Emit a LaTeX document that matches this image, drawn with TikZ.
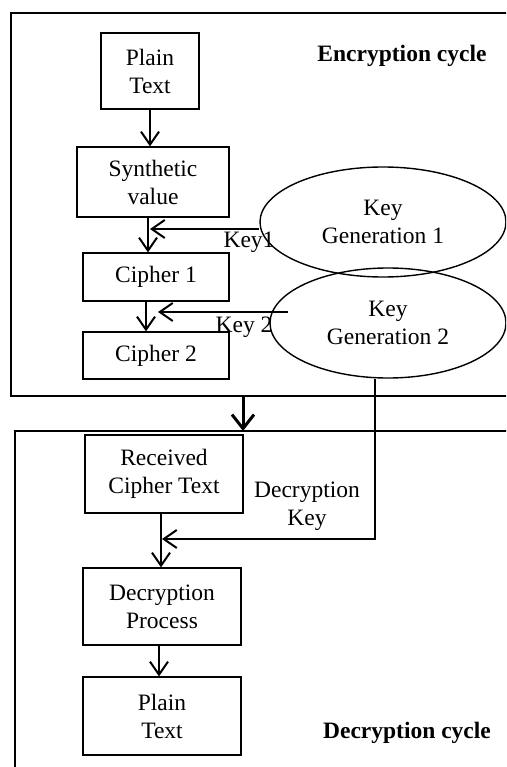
\documentclass[tikz,border=0pt]{standalone}
\usepackage{fontspec}
\setmainfont{Liberation Serif}
\usetikzlibrary{shapes.geometric,arrows.meta}
\begin{document}
\begin{tikzpicture}[x=1pt,y=-1pt,
  every node/.style={font=\fontsize{23.5}{28}\selectfont, inner sep=0pt},
  stepbox/.style={draw, line width=1.2pt, align=center},
  keyell/.style={draw, ellipse, line width=1.4pt, align=center},
  frame/.style={draw, line width=2.4pt},
  arr/.style={line width=2pt, -{Straight Barb[length=13pt,width=18pt]}},
  bigarr/.style={line width=3pt, -{Straight Barb[length=14pt,width=22pt]}},
  title/.style={font=\fontsize{23.5}{28}\selectfont\bfseries}]
\useasboundingbox (0,0) rectangle (506,767);
\clip (0,0) rectangle (506,767);

% outer frames of the two cycles
\draw[frame] (520,13) -- (11,13) -- (11,396) -- (520,396);
\draw[frame] (520,431) -- (15,431) -- (15,790);

% encryption cycle
\node[stepbox, minimum width=98pt, minimum height=76pt] (plain) at (150,71) {Plain\\Text};
\node[stepbox, minimum width=152pt, minimum height=70pt] (synth) at (153,182) {Synthetic\\value};
\node[stepbox, minimum width=146pt, minimum height=48pt] (c1) at (156,277) {Cipher 1};
\node[stepbox, minimum width=146pt, minimum height=47pt] (c2) at (156,355.5) {Cipher 2};
\node[keyell, minimum width=246pt, minimum height=110pt] (k1) at (383,222) {Key\\Generation 1};
\node[keyell, minimum width=236pt, minimum height=110pt] (k2) at (388,323) {Key\\Generation 2};
\node[title] (enc) at (402,56) {Encryption cycle};

\draw[arr] (plain.south) -- (plain.south |- synth.north);
\draw[arr] ([xshift=-5pt]synth.south) -- ([xshift=-5pt]synth.south |- c1.north);
\draw[arr] ([xshift=-10pt]c1.south) -- ([xshift=-10pt]c1.south |- c2.north);

\coordinate (ka) at (150,229);
\coordinate (kb) at (158,312);
\coordinate (kbs) at (288,312);
\draw[arr] (ka -| k1.west) -- (ka);
\draw[arr] (kbs) -- (kb);
\node (key1) at (249,242) {Key1};
\node (key2) at (244,327) {Key 2};

% transfer between the cycles
\coordinate (tr) at (243,396);
\draw[bigarr] (tr) -- (243,431);

% decryption cycle
\node[stepbox, minimum width=158pt, minimum height=78pt] (recv) at (164,474) {Received\\Cipher Text};
\node[stepbox, minimum width=158pt, minimum height=77pt] (proc) at (162,606.5) {Decryption\\Process};
\node[stepbox, minimum width=158pt, minimum height=78pt] (plain2) at (162,716) {Plain\\Text};
\node[title] (dec) at (407,733) {Decryption cycle};
\node[align=center] (dkey) at (307,506) {Decryption\\Key};

\draw[arr] ([xshift=-3pt]recv.south) -- ([xshift=-3pt]recv.south |- proc.north);
\draw[arr] ([xshift=-3pt]proc.south) -- ([xshift=-3pt]proc.south |- plain2.north);

\coordinate (dk) at (162,539);
\draw[arr] ([xshift=-13pt]k2.south) -- (375,539) -- (dk);
\end{tikzpicture}
\end{document}
